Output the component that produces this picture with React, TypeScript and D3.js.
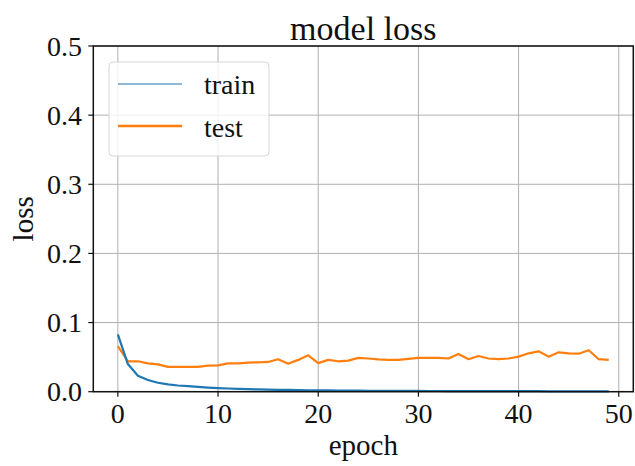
import * as d3 from "d3";

const epochs = d3.range(50);
const trainLoss = [
  0.083, 0.04, 0.023, 0.017, 0.013, 0.0105, 0.009, 0.008, 0.007, 0.006,
  0.0052, 0.0046, 0.0041, 0.0037, 0.0033, 0.003, 0.0027, 0.0025, 0.0023, 0.0021,
  0.0019, 0.0018, 0.0017, 0.0016, 0.0015, 0.0014, 0.0013, 0.0012, 0.0012, 0.0011,
  0.0011, 0.001, 0.001, 0.0009, 0.0009, 0.0009, 0.0008, 0.0008, 0.0008, 0.0007,
  0.0007, 0.0007, 0.0007, 0.0006, 0.0006, 0.0006, 0.0006, 0.0006, 0.0005, 0.0005,
];
const testLoss = [
  0.066, 0.044, 0.044, 0.041, 0.0396, 0.036, 0.036, 0.036, 0.036, 0.0377,
  0.038, 0.041, 0.041, 0.042, 0.0425, 0.043, 0.047, 0.0405, 0.046, 0.0527,
  0.0413, 0.046, 0.044, 0.045, 0.049, 0.048, 0.0467, 0.0459, 0.046, 0.0475,
  0.049, 0.049, 0.049, 0.048, 0.0546, 0.047, 0.0516, 0.048, 0.047, 0.048,
  0.0507, 0.0555, 0.0584, 0.0507, 0.057, 0.0555, 0.055, 0.06, 0.047, 0.046,
];
const xTicks = [0, 10, 20, 30, 40, 50];
const yTicks = [0, 0.1, 0.2, 0.3, 0.4, 0.5];

const W = 635;
const H = 466;
const left = 93.3;
const right = 633.3;
const top = 46;
const bottom = 391.7;
const font = "'Liberation Serif', 'Times New Roman', serif";

const App = () => {
  const x = d3.scaleLinear().domain([-2.45, 51.45]).range([left, right]);
  const y = d3.scaleLinear().domain([0, 0.5]).range([bottom, top]);
  const line = d3
    .line<number>()
    .x((_, i) => x(epochs[i]))
    .y((d) => y(d));

  return (
    <svg
      width={W}
      height={H}
      style={{ position: "absolute", left: 0, top: 0, background: "#fff" }}
      fontFamily={font}
    >
      {/* grid */}
      {xTicks.map((t) => (
        <line key={"gx" + t} x1={x(t)} x2={x(t)} y1={top} y2={bottom} stroke="#b0b0b0" strokeWidth={1} />
      ))}
      {yTicks.map((t) => (
        <line key={"gy" + t} x1={left} x2={right} y1={y(t)} y2={y(t)} stroke="#b0b0b0" strokeWidth={1} />
      ))}

      <path d={line(testLoss) ?? undefined} fill="none" stroke="#ff7f0e" strokeWidth={2.2} strokeLinejoin="round" />
      <path d={line(trainLoss) ?? undefined} fill="none" stroke="#1f77b4" strokeWidth={2.2} strokeLinejoin="round" />

      {/* spines */}
      <rect x={left} y={top} width={right - left} height={bottom - top} fill="none" stroke="#111" strokeWidth={1.5} />

      {/* x ticks */}
      {xTicks.map((t) => (
        <g key={"xt" + t}>
          <line x1={x(t)} x2={x(t)} y1={bottom} y2={bottom + 5} stroke="#111" strokeWidth={1.2} />
          <text x={x(t)} y={423} textAnchor="middle" fontSize={28} fill="#111">
            {t}
          </text>
        </g>
      ))}
      {/* y ticks */}
      {yTicks.map((t) => (
        <g key={"yt" + t}>
          <line x1={left - 5} x2={left} y1={y(t)} y2={y(t)} stroke="#111" strokeWidth={1.2} />
          <text x={82} y={y(t) + 9.5} textAnchor="end" fontSize={28} fill="#111">
            {t.toFixed(1)}
          </text>
        </g>
      ))}

      <text x={(left + right) / 2} y={40} textAnchor="middle" fontSize={34} fill="#111">
        model loss
      </text>
      <text x={(left + right) / 2} y={455} textAnchor="middle" fontSize={29} fill="#111">
        epoch
      </text>
      <text
        transform={`translate(33, ${(top + bottom) / 2}) rotate(-90)`}
        textAnchor="middle"
        fontSize={29}
        fill="#111"
      >
        loss
      </text>

      {/* legend */}
      <rect x={109} y={62} width={160} height={94} rx={4} fill="#fff" fillOpacity={0.8} stroke="#d6d6d6" strokeWidth={1} />
      <line x1={118} x2={182} y1={84} y2={84} stroke="#1f77b4" strokeWidth={1.2} />
      <text x={204} y={94} fontSize={28} fill="#111">
        train
      </text>
      <line x1={118} x2={182} y1={126} y2={126} stroke="#ff7f0e" strokeWidth={2.4} />
      <text x={204} y={137} fontSize={28} fill="#111">
        test
      </text>
    </svg>
  );
};

export default App;
